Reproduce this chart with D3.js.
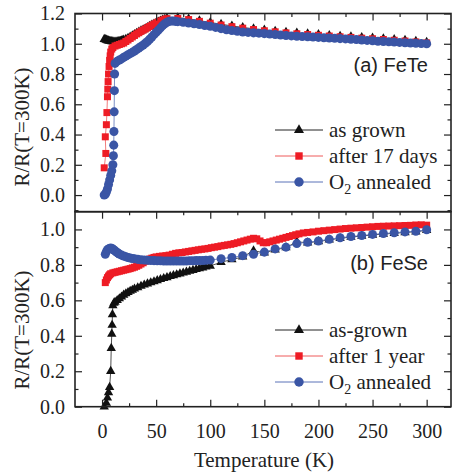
<!DOCTYPE html>
<html>
<head>
<meta charset="utf-8">
<script src="https://cdn.jsdelivr.net/npm/d3@7"></script>
<style>
  body { margin: 0; background: #fff; }
  svg { display: block; }
  .serif { font-family: "Liberation Serif", "Times New Roman", Times, serif; }
  .sans { font-family: "Liberation Sans", Arial, Helvetica, sans-serif; }
</style>
</head>
<body>
<svg id="svg1" width="452" height="474"></svg>
<script>
// ---- data: [T (K), R/R(300K)] ----
var feteAsGrown = [[2,1.03],[3,1.028],[4,1.025],[5,1.022],[6,1.02],[7,1.018],[8,1.016],[9,1.015],[10,1.014],[11,1.013],[12,1.013],[13,1.013],[14,1.014],[15,1.015],[16,1.016],[17,1.018],[18,1.02],[19,1.022],[20,1.025],[22,1.03],[24,1.037],[26,1.045],[28,1.053],[30,1.062],[32,1.07],[34,1.078],[36,1.086],[38,1.093],[40,1.1],[42,1.108],[44,1.116],[46,1.124],[48,1.131],[50,1.138],[52,1.145],[54,1.151],[56,1.157],[58,1.163],[60,1.168],[70,1.172],[80,1.165],[90,1.153],[100,1.141],[110,1.129],[120,1.118],[130,1.108],[140,1.099],[150,1.091],[160,1.084],[170,1.077],[180,1.071],[190,1.066],[200,1.061],[210,1.056],[220,1.051],[230,1.047],[240,1.042],[250,1.038],[260,1.033],[270,1.028],[280,1.023],[290,1.017],[300,1.011]];

var feteAfter17 = [[2,0.18],[3.5,0.275],[3,0.385],[4,0.465],[4.5,0.545],[5,0.65],[5.3,0.7],[5.6,0.75],[6,0.8],[6.5,0.85],[7,0.89],[7.5,0.92],[8,0.945],[9,0.965],[10,0.975],[12,0.985],[14,0.99],[16,0.995],[18,1.0],[20,1.005],[22,1.015],[24,1.025],[26,1.035],[28,1.045],[30,1.055],[32,1.065],[34,1.073],[36,1.082],[38,1.09],[40,1.098],[42,1.106],[44,1.114],[46,1.122],[48,1.13],[50,1.137],[52,1.144],[54,1.15],[56,1.156],[58,1.162],[60,1.166],[70,1.167],[80,1.16],[90,1.148],[100,1.136],[110,1.124],[120,1.113],[130,1.103],[140,1.094],[150,1.086],[160,1.079],[170,1.072],[180,1.066],[190,1.061],[200,1.056],[210,1.051],[220,1.046],[230,1.042],[240,1.037],[250,1.033],[260,1.028],[270,1.023],[280,1.018],[290,1.012],[300,1.006]];

var feteO2 = [[2,0.0],[3,0.005],[4,0.02],[5,0.04],[6,0.07],[7,0.1],[8,0.13],[9,0.16],[10,0.2],[10.5,0.26],[10.8,0.33],[11,0.42],[11.2,0.55],[11.4,0.69],[11.6,0.8],[12,0.87],[14,0.885],[16,0.893],[18,0.9],[20,0.91],[22,0.918],[24,0.927],[26,0.935],[28,0.943],[30,0.952],[32,0.962],[34,0.972],[36,0.982],[38,0.992],[40,1.003],[42,1.015],[44,1.03],[46,1.045],[48,1.06],[50,1.075],[52,1.09],[54,1.105],[56,1.12],[58,1.132],[60,1.142],[62,1.148],[64,1.15],[66,1.15],[68,1.148],[70,1.146],[75,1.142],[80,1.137],[85,1.132],[90,1.127],[95,1.121],[100,1.115],[105,1.108],[110,1.1],[115,1.093],[120,1.087],[125,1.082],[130,1.078],[135,1.075],[140,1.072],[145,1.07],[150,1.067],[155,1.064],[160,1.061],[165,1.058],[170,1.055],[175,1.052],[180,1.05],[185,1.048],[190,1.046],[195,1.044],[200,1.042],[205,1.04],[210,1.038],[215,1.036],[220,1.034],[225,1.032],[230,1.03],[235,1.028],[240,1.025],[245,1.022],[250,1.02],[255,1.017],[260,1.015],[265,1.013],[270,1.011],[275,1.009],[280,1.007],[285,1.005],[290,1.003],[295,1.001],[300,1.0]];

var feseAsGrown = [[2,0.0],[4,0.02],[5,0.05],[6,0.08],[7,0.11],[8,0.2],[8.5,0.33],[9,0.41],[9.3,0.46],[9.6,0.52],[10,0.57],[11,0.585],[12,0.59],[14,0.6],[16,0.61],[18,0.62],[20,0.63],[22,0.638],[24,0.645],[26,0.652],[28,0.658],[30,0.665],[33,0.672],[36,0.68],[39,0.687],[42,0.694],[45,0.7],[48,0.706],[51,0.712],[54,0.718],[57,0.724],[60,0.729],[63,0.735],[66,0.74],[69,0.745],[72,0.75],[75,0.755],[78,0.76],[81,0.765],[84,0.77],[87,0.775],[90,0.78],[93,0.784],[96,0.789],[100,0.794],[110,0.815],[120,0.83],[130,0.845],[140,0.88],[150,0.868],[160,0.885],[170,0.898],[180,0.93],[190,0.925],[200,0.932],[210,0.941],[220,0.95],[230,0.957],[240,0.963],[250,0.969],[260,0.974],[270,0.978],[280,0.983],[290,0.987],[300,0.995]];

var feseAfter1y = [[3,0.7],[4,0.715],[5,0.728],[6,0.737],[7,0.744],[8,0.75],[10,0.755],[12,0.758],[14,0.761],[16,0.764],[18,0.767],[20,0.77],[22,0.773],[24,0.776],[26,0.779],[28,0.783],[30,0.787],[32,0.792],[34,0.798],[36,0.805],[38,0.812],[40,0.82],[42,0.827],[44,0.833],[46,0.838],[48,0.842],[50,0.845],[53,0.848],[56,0.85],[59,0.852],[62,0.855],[65,0.86],[68,0.865],[71,0.868],[74,0.87],[77,0.873],[80,0.876],[83,0.879],[86,0.882],[89,0.885],[92,0.888],[95,0.89],[98,0.893],[101,0.897],[104,0.9],[107,0.903],[110,0.907],[113,0.91],[116,0.913],[119,0.916],[122,0.92],[125,0.925],[128,0.93],[131,0.935],[134,0.94],[137,0.945],[140,0.95],[143,0.947],[146,0.935],[149,0.925],[152,0.925],[155,0.93],[158,0.935],[161,0.94],[164,0.945],[167,0.95],[170,0.955],[173,0.96],[176,0.965],[179,0.97],[182,0.975],[186,0.98],[190,0.983],[195,0.986],[200,0.99],[205,0.993],[210,0.996],[215,0.999],[220,1.002],[225,1.005],[230,1.007],[235,1.009],[240,1.011],[245,1.013],[250,1.015],[255,1.017],[260,1.018],[265,1.019],[270,1.02],[275,1.021],[280,1.022],[285,1.023],[290,1.025],[295,1.026],[300,1.024]];

var feseO2 = [[3,0.86],[4,0.875],[5,0.885],[6,0.89],[7,0.893],[8,0.895],[9,0.893],[10,0.889],[11,0.884],[12,0.879],[13,0.874],[14,0.869],[15,0.865],[16,0.861],[18,0.855],[20,0.85],[22,0.846],[24,0.842],[26,0.839],[28,0.836],[30,0.834],[33,0.831],[36,0.829],[39,0.827],[42,0.826],[45,0.825],[48,0.824],[51,0.823],[54,0.823],[57,0.822],[60,0.822],[63,0.822],[66,0.822],[69,0.822],[72,0.822],[75,0.822],[78,0.822],[81,0.823],[84,0.823],[87,0.824],[90,0.824],[93,0.825],[96,0.826],[100,0.827],[110,0.835],[120,0.842],[130,0.852],[140,0.86],[150,0.872],[160,0.89],[170,0.9],[180,0.92],[190,0.928],[200,0.935],[210,0.944],[220,0.953],[230,0.96],[240,0.966],[250,0.972],[260,0.977],[270,0.981],[280,0.986],[290,0.99],[300,0.998]];

var fetelabels = ['as grown', 'after 17 days', 'O2 annealed'];
var feselabels = ['as-grown', 'after 1 year', 'O2 annealed'];

var tempTicks = [0, 50, 100, 150, 200, 250, 300];
var tempMinor = [25, 75, 125, 175, 225, 275];
var topTicks = [0, 0.2, 0.4, 0.6, 0.8, 1.0, 1.2];
var topMinor = [-0.1, 0.1, 0.3, 0.5, 0.7, 0.9, 1.1];
var botTicks = [0, 0.2, 0.4, 0.6, 0.8, 1.0];
var botMinor = [0.1, 0.3, 0.5, 0.7, 0.9];

var colors = ['#111111', '#ee1c25', '#3a55a5'];
var lineColors = ['#222222', '#ee5a5a', '#5a72b8'];
var symbols = [d3.symbolTriangle, d3.symbolSquare, d3.symbolCircle];
var symSizes = [38, 49, 64];

var svg = d3.select('#svg1');

var x = d3.scaleLinear().domain([-25, 322.5]).range([75, 451]);
var yTop = d3.scaleLinear().domain([-0.11, 1.2]).range([211.7, 13.5]);
var yBot = d3.scaleLinear().domain([0, 1.1]).range([406.7, 211.7]);

function drawPanel(y, series, labels, major, minor, tag, tagY, legendY, showBottomLabels, titleY) {
    var g = svg.append('g');
    var x0 = x.range()[0], x1 = x.range()[1];
    var yb = y.range()[0], yt = y.range()[1];

    // series: lines then markers
    series.forEach(function(data, i) {
        var line = d3.line().x(function(d){ return x(d[0]); }).y(function(d){ return y(d[1]); });
        g.append('path')
            .attr('d', line(data))
            .attr('fill', 'none')
            .attr('stroke', lineColors[i])
            .attr('stroke-width', 0.8);
    });
    series.forEach(function(data, i) {
        g.selectAll('path.m' + i)
            .data(data)
            .enter()
            .append('path')
            .attr('class', 'm' + i)
            .attr('d', d3.symbol().type(symbols[i]).size(symSizes[i]))
            .attr('transform', function(d){ return 'translate(' + x(d[0]) + ',' + y(d[1]) + ')'; })
            .attr('fill', colors[i]);
    });

    // axes, ticks inward
    function styleAxis(sel) {
        sel.attr('font-family', null).attr('font-size', null);
        sel.select('.domain').remove();
        sel.selectAll('line').attr('stroke', '#222').attr('stroke-width', 1.2);
        sel.selectAll('text').attr('class', 'serif').style('font-size', '20px').attr('fill', '#222');
    }
    g.append('g').attr('transform', 'translate(' + x0 + ',0)')
        .call(d3.axisLeft(y).tickValues(major).tickSize(-7).tickPadding(10).tickFormat(d3.format('.1f')))
        .call(styleAxis);
    g.append('g').attr('transform', 'translate(' + x0 + ',0)')
        .call(d3.axisLeft(y).tickValues(minor).tickSize(-3.5).tickFormat(''))
        .call(styleAxis);
    g.append('g').attr('transform', 'translate(' + x1 + ',0)')
        .call(d3.axisRight(y).tickValues(major).tickSize(-7).tickFormat(''))
        .call(styleAxis);
    g.append('g').attr('transform', 'translate(' + x1 + ',0)')
        .call(d3.axisRight(y).tickValues(minor).tickSize(-3.5).tickFormat(''))
        .call(styleAxis);
    g.append('g').attr('transform', 'translate(0,' + yt + ')')
        .call(d3.axisTop(x).tickValues(tempTicks).tickSize(-7).tickFormat(''))
        .call(styleAxis);
    g.append('g').attr('transform', 'translate(0,' + yt + ')')
        .call(d3.axisTop(x).tickValues(tempMinor).tickSize(-3.5).tickFormat(''))
        .call(styleAxis);
    if (showBottomLabels) {
        g.append('g').attr('transform', 'translate(0,' + yb + ')')
            .call(d3.axisBottom(x).tickValues(tempTicks).tickSize(-7).tickPadding(17).tickFormat(d3.format('d')))
            .call(styleAxis);
        g.append('g').attr('transform', 'translate(0,' + yb + ')')
            .call(d3.axisBottom(x).tickValues(tempMinor).tickSize(-3.5).tickFormat(''))
            .call(styleAxis);
    }

    // frame
    g.append('rect')
        .attr('x', x0).attr('y', yt)
        .attr('width', x1 - x0).attr('height', yb - yt)
        .attr('fill', 'none')
        .attr('stroke', '#222')
        .attr('stroke-width', 1.6);

    // panel tag
    g.append('text')
        .attr('class', 'sans')
        .attr('x', 428).attr('y', tagY)
        .attr('text-anchor', 'end')
        .style('font-size', '20px')
        .attr('fill', '#222')
        .text(tag);

    // legend
    labels.forEach(function(lab, i) {
        var ly = legendY + i * 26;
        g.append('line')
            .attr('x1', 275).attr('x2', 323)
            .attr('y1', ly).attr('y2', ly)
            .attr('stroke', lineColors[i]).attr('stroke-width', 1);
        g.append('path')
            .attr('d', d3.symbol().type(symbols[i]).size(symSizes[i] + 6))
            .attr('transform', 'translate(299,' + ly + ')')
            .attr('fill', colors[i]);
        var t = g.append('text')
            .attr('class', 'serif')
            .attr('x', 329).attr('y', ly + 7)
            .style('font-size', '21px')
            .attr('fill', '#222');
        if (lab.indexOf('O2') === 0) {
            t.append('tspan').text('O');
            t.append('tspan').style('font-size', '14px').attr('dy', 5).text('2');
            t.append('tspan').attr('dy', -5).text(lab.slice(2));
        } else {
            t.text(lab);
        }
    });

    // y title
    svg.append('text')
        .attr('class', 'serif')
        .attr('transform', 'translate(29,' + titleY + ') rotate(-90)')
        .attr('text-anchor', 'middle')
        .style('font-size', '21px')
        .attr('fill', '#222')
        .text('R/R(T=300K)');
}

drawPanel(yTop, [feteAsGrown, feteAfter17, feteO2], fetelabels, topTicks, topMinor, '(a) FeTe', 72, 130, false, 127);
drawPanel(yBot, [feseAsGrown, feseAfter1y, feseO2], feselabels, botTicks, botMinor, '(b) FeSe', 270, 330, true, 330);

svg.append('text')
    .attr('class', 'serif')
    .attr('x', 264).attr('y', 467)
    .attr('text-anchor', 'middle')
    .style('font-size', '21px')
    .attr('fill', '#222')
    .text('Temperature (K)');
</script>
</body>
</html>
